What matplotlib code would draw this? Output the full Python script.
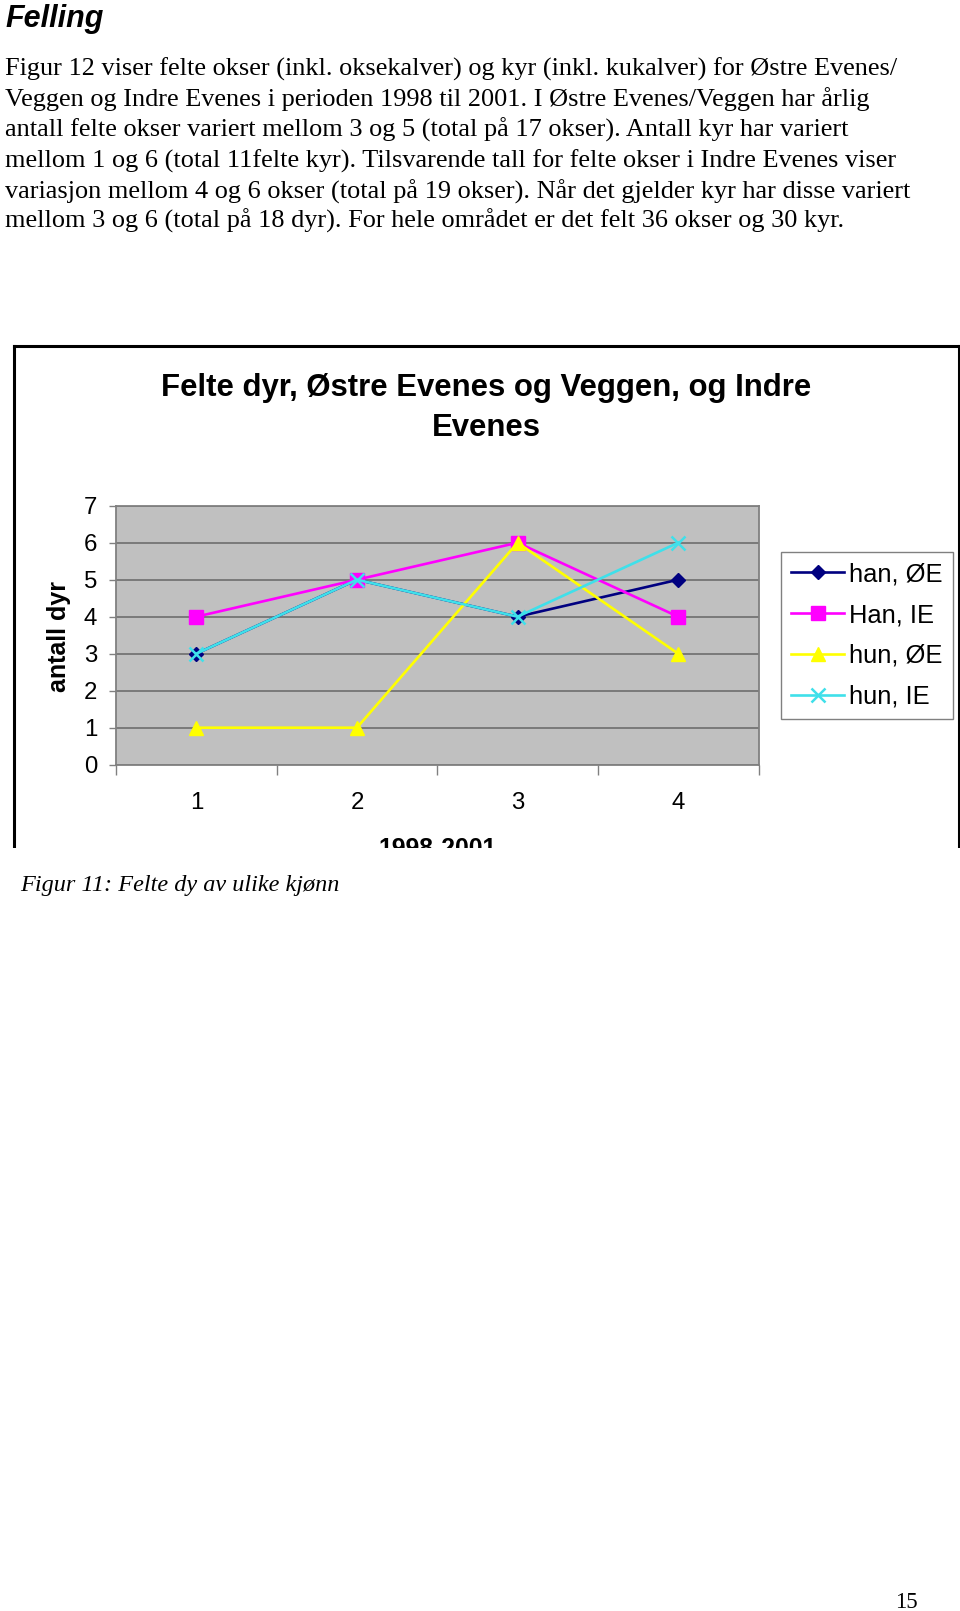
import matplotlib
matplotlib.use("Agg")
import matplotlib.pyplot as plt
from matplotlib.patches import Rectangle
from matplotlib.lines import Line2D

# ---------------- data ----------------
years = [1, 2, 3, 4]
year_labels = ["1", "2", "3", "4"]
han_OE = [3, 5, 4, 5]
han_IE = [4, 5, 6, 4]
hun_OE = [1, 1, 6, 3]
hun_IE = [3, 5, 4, 6]
series_names = ["han, ØE", "Han, IE", "hun, ØE", "hun, IE"]
y_ticks = [0, 1, 2, 3, 4, 5, 6, 7]

heading = "Felling"
paragraph = [
    "Figur 12 viser felte okser (inkl. oksekalver) og kyr (inkl. kukalver) for Østre Evenes/",
    "Veggen og Indre Evenes i perioden 1998 til 2001. I Østre Evenes/Veggen har årlig",
    "antall felte okser variert mellom 3 og 5 (total på 17 okser). Antall kyr har variert",
    "mellom 1 og 6 (total 11felte kyr). Tilsvarende tall for felte okser i Indre Evenes viser",
    "variasjon mellom 4 og 6 okser (total på 19 okser). Når det gjelder kyr har disse variert",
    "mellom 3 og 6 (total på 18 dyr). For hele området er det felt 36 okser og 30 kyr.",
]
title_lines = ["Felte dyr, Østre Evenes og Veggen, og Indre", "Evenes"]
ylabel = "antall dyr"
xlabel = "1998-2001"
caption = "Figur 11: Felte dy av ulike kjønn"
page_no = "15"

# ---------------- layout helpers ----------------
W, H = 960, 1611
fig = plt.figure(figsize=(W / 100, H / 100), dpi=100)
fig.patch.set_facecolor("white")


def fx(x):
    return x / W


def fy(y):
    return 1 - y / H


SANS = "Liberation Sans"
SERIF = "Liberation Serif"

# page text
fig.text(fx(5), fy(18.5), heading, fontsize=22, fontweight="bold", fontstyle="italic",
         family=SANS, ha="left", va="center")
line_y = [69, 99.3, 130.1, 160.8, 191.3, 221]
for yy, line in zip(line_y, paragraph):
    fig.text(fx(5), fy(yy), line, fontsize=18.95, family=SERIF, ha="left", va="center")

fig.text(fx(20.5), fy(886), caption, fontsize=17.5, family=SERIF, fontstyle="italic",
         ha="left", va="center")
fig.text(fx(906), fy(1603), page_no, fontsize=16.5, family=SERIF, ha="center", va="center")

# chart box (left, top, right borders; bottom cropped)
box_l, box_t, box_r, box_b = 13.5, 345.5, 958.5, 848
for xs, ys in [((box_l, box_l), (box_t, box_b)), ((box_l, box_r), (box_t, box_t)),
               ((box_r, box_r), (box_t, box_b))]:
    fig.add_artist(Line2D([fx(v) for v in xs], [fy(v) for v in ys], color="black",
                          lw=2.2, transform=fig.transFigure, zorder=5))

# chart title
fig.text(fx(486), fy(388), title_lines[0], fontsize=22.4, fontweight="bold", family=SANS,
         ha="center", va="center")
fig.text(fx(486), fy(428.5), title_lines[1], fontsize=22.4, fontweight="bold", family=SANS,
         ha="center", va="center")

# ---------------- plot area ----------------
pl, pr, pt, pb = 116, 758.5, 505.7, 764.7
ax = fig.add_axes([fx(pl), fy(pb), (pr - pl) / W, (pb - pt) / H])
ax.set_facecolor("#C0C0C0")
ax.set_xlim(0.5, 4.5)
ax.set_ylim(0, 7)
for s in ax.spines.values():
    s.set_color("#808080")
    s.set_linewidth(1.3)

ax.set_yticks(y_ticks)
ax.yaxis.grid(True, color="#7a7a7a", lw=1.4)
ax.set_axisbelow(True)
ax.tick_params(axis="y", direction="out", length=5, width=1, color="#808080",
               labelsize=17.3, pad=8.5)
ax.set_xticks(years)
ax.set_xticklabels(year_labels)
ax.set_xticks([0.5, 1.5, 2.5, 3.5, 4.5], minor=True)
ax.tick_params(axis="x", which="major", length=0, labelsize=17.3, pad=19.5)
ax.tick_params(axis="x", which="minor", direction="out", length=7, width=1, color="#808080")
for lab in ax.get_xticklabels() + ax.get_yticklabels():
    lab.set_family(SANS)

navy, magenta, yellow, cyan = "#000080", "#FF00FF", "#FFFF00", "#3FE0EA"
lw = 1.9
ax.plot(years, han_OE, color=navy, lw=lw, marker="D", ms=7.3, mec=navy, mfc=navy,
        label=series_names[0], clip_on=False, zorder=3)
ax.plot(years, han_IE, color=magenta, lw=lw, marker="s", ms=10, mec=magenta, mfc=magenta,
        label=series_names[1], clip_on=False, zorder=4)
ax.plot(years, hun_OE, color=yellow, lw=lw, marker="^", ms=10.5, mec=yellow, mfc=yellow,
        label=series_names[2], clip_on=False, zorder=5)
ax.plot(years, hun_IE, color=cyan, lw=lw, marker="x", ms=10, mew=1.8, mec=cyan,
        label=series_names[3], clip_on=False, zorder=6)

ax.set_ylabel(ylabel, fontsize=18, fontweight="bold", family=SANS, va="center")
ax.yaxis.set_label_coords((59.5 - pl) / (pr - pl), (pb - 637) / (pb - pt))
ax.set_xlabel(xlabel, fontsize=17.8, fontweight="bold", family=SANS, va="center")
ax.xaxis.set_label_coords(0.5, (pb - 849) / (pb - pt))

leg = ax.legend(loc="upper left", bbox_to_anchor=(fx(781), fy(552)),
                bbox_transform=fig.transFigure, fontsize=18.4, frameon=True, fancybox=False,
                edgecolor="#808080", framealpha=1, handlelength=2.07, handletextpad=0.2,
                labelspacing=0.66, borderpad=0.4, borderaxespad=0)
leg.get_frame().set_linewidth(1)
for t in leg.get_texts():
    t.set_family(SANS)

# crop below the chart (the original image is cut off here)
fig.add_artist(Rectangle((0, fy(870)), 1, fy(848) - fy(870), transform=fig.transFigure,
                         facecolor="white", edgecolor="none", zorder=20))

fig.savefig("out.png", dpi=100)
